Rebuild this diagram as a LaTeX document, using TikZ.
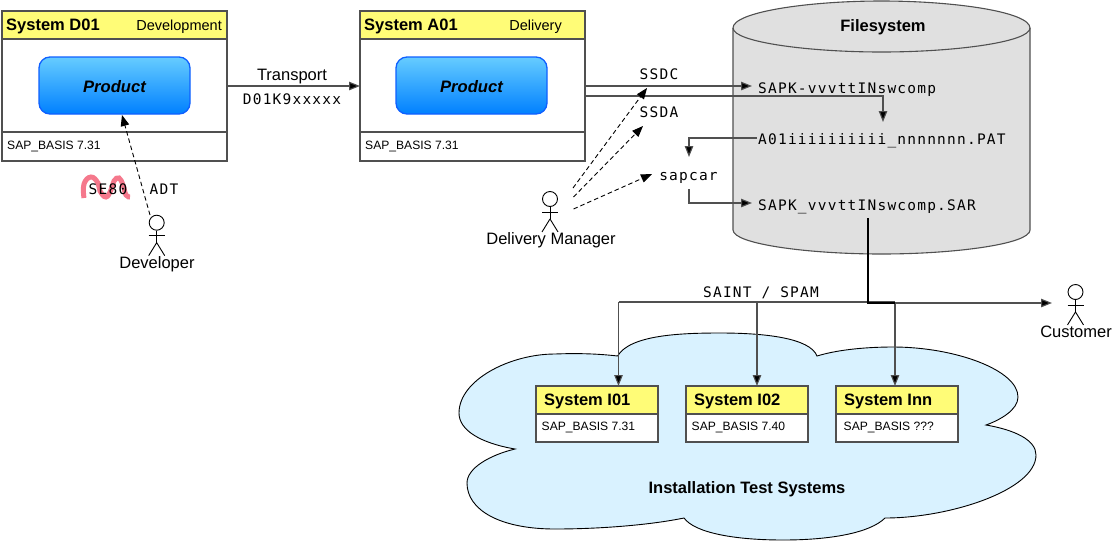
\documentclass[tikz,border=0pt]{standalone}
\usepackage{fontspec}
\setmainfont{Liberation Sans}
\newfontfamily\codefont[LetterSpace=8.4]{DejaVu Sans Mono}
\usetikzlibrary{arrows.meta,calc}
\definecolor{linegray}{HTML}{505050}
\definecolor{headyellow}{HTML}{FFFC77}
\definecolor{cloudblue}{HTML}{D9F2FF}
\definecolor{cylgray}{HTML}{E0E0E0}
\definecolor{squig}{HTML}{F5788C}
\definecolor{prodtop}{HTML}{66CCFF}
\definecolor{prodbot}{HTML}{0080FF}
\definecolor{prodline}{HTML}{0F60FF}
\tikzset{
  x=1pt,y=-1pt,
  boxpart/.style={draw=linegray,line width=1.1pt,rectangle,inner sep=0pt,outer sep=0pt,fill=white},
  headpart/.style={boxpart,fill=headyellow},
  product/.style={draw=prodline,line width=1.3pt,rounded corners=11pt,minimum width=151pt,minimum height=57pt,
    top color=prodtop,bottom color=prodbot,inner sep=0pt,text depth=0pt,font=\fontsize{16.6}{19}\selectfont\bfseries\itshape},
  sans/.style={inner sep=0pt,font=\fontsize{16.5}{19}\selectfont},
  title/.style={inner sep=0pt,font=\fontsize{16.5}{19}\selectfont\bfseries},
  midtext/.style={inner sep=0pt,font=\fontsize{14.5}{17}\selectfont},
  small/.style={inner sep=0pt,font=\fontsize{12.1}{14}\selectfont},
  code/.style={inner sep=0pt,font=\fontsize{14.5}{17}\codefont},
  conn/.style={draw=linegray,line width=1.1pt,-{Triangle[length=11pt,width=8.5pt,fill=black]}},
  plainconn/.style={draw=linegray,line width=1.1pt},
  darkconn/.style={draw=black,line width=1.4pt},
  dashconn/.style={draw=black,line width=.9pt,dash pattern=on 4.5pt off 3pt,-{Triangle[length=11pt,width=8.5pt,fill=black]}},
  stick/.style={draw=black,line width=.9pt},
}
\newcommand{\actor}[3]{% x, y of head centre, name
  \node[stick,circle,fill=white,minimum size=15pt,inner sep=0pt] (#3) at (#1,#2) {};
  \draw[stick] (#3.south) -- ++(0,12) coordinate (#3hip);
  \draw[stick] ($(#3.south)+(-8,5)$) -- ($(#3.south)+(8,5)$);
  \draw[stick] (#3hip) -- ++(-8,13) (#3hip) -- ++(8,13);
}
\begin{document}
\begin{tikzpicture}
\useasboundingbox (0,0) rectangle (1112,547);
% cloud
\draw[fill=cloudblue,draw=black,line width=.9pt]
  (617.6,356) .. controls (630,335) and (680,333) .. (720,333)
  .. controls (765,333) and (810,338) .. (817,356)
  .. controls (840,349) and (870,347) .. (893,347)
  .. controls (955,347) and (1018,370) .. (1018,397)
  .. controls (1018,410) and (1000,420) .. (986,425)
  .. controls (1015,430) and (1036,440) .. (1036,455)
  .. controls (1036,490) and (950,518) .. (885,518)
  .. controls (870,533) and (830,540) .. (783,540)
  .. controls (735,540) and (695,533) .. (684,518)
  .. controls (650,525) and (600,529) .. (555,529)
  .. controls (500,529) and (467,510) .. (467,483)
  .. controls (467,468) and (490,455) .. (515,449)
  .. controls (480,443) and (459,430) .. (459,413)
  .. controls (459,380) and (510,354) .. (555,354)
  .. controls (580,353) and (600,354) .. (617.6,356) -- cycle;
% cylinder
\draw[fill=cylgray,draw=linegray,line width=1.1pt]
  (733,28) -- (733,230) .. controls (733,244) and (808,254) .. (881.5,254)
  .. controls (955,254) and (1030,244) .. (1030,230) -- (1030,28)
  .. controls (1030,12) and (955,1) .. (881.5,1) .. controls (808,1) and (733,12) .. (733,28) -- cycle;
\draw[draw=linegray,line width=1.1pt] (733,28) .. controls (733,42) and (808,52) .. (881.5,52) .. controls (955,52) and (1030,42) .. (1030,28);
\node[title] (fs) at (883,27.5) {Filesystem};
% system D01
\node[boxpart,minimum width=225pt,minimum height=150pt] (sysD) at (114.5,86) {};
\node[headpart,minimum width=225pt,minimum height=28pt] (sysDh) at (114.5,25) {};
\node[boxpart,minimum width=225pt,minimum height=29pt] (sysDf) at (114.5,146.5) {};
\node[title,anchor=west] (sysDt) at (6,26) {System D01};
\node[midtext,anchor=east] (sysDr) at (222,26.5) {Development};
\node[small,anchor=west] (sysDb) at (7,146) {SAP\_BASIS 7.31};
\node[product] (prodD) at (114.5,85.5) {\raisebox{-1.5pt}{Product}};
% system A01
\node[boxpart,minimum width=225pt,minimum height=150pt] (sysA) at (472.5,86) {};
\node[headpart,minimum width=225pt,minimum height=28pt] (sysAh) at (472.5,25) {};
\node[boxpart,minimum width=225pt,minimum height=29pt] (sysAf) at (472.5,146.5) {};
\node[title,anchor=west] (sysAt) at (364,26) {System A01};
\node[midtext,anchor=east] (sysAr) at (562,26.5) {Delivery};
\node[small,anchor=west] (sysAb) at (365,146) {SAP\_BASIS 7.31};
\node[product] (prodA) at (471.5,85.5) {\raisebox{-1.5pt}{Product}};
% transport
\node[sans] (tr) at (292,77) {Transport};
\node[code] (trc) at (292,99) {D01K9xxxxx};
\draw[conn] (sysD.east |- 0,86) -- (sysA.west |- 0,86);
% squiggle
\draw[squig,line width=5pt] plot[smooth,tension=.75] coordinates {(84,198) (84,184) (91,177) (98,183) (100,191) (106,197) (111,190) (114,181) (119,178) (123,185) (126,195) (130,197)};
\node[code] (se) at (108,189) {SE80};
\node[code] (adt) at (164,189) {ADT};
% actors
\actor{156.7}{222.7}{dev}
\node[sans] (devl) at (157,264) {Developer};
\actor{550}{199}{mgr}
\node[sans] (mgrl) at (551,240) {Delivery Manager};
\actor{1075.5}{292}{cust}
\node[sans] (custl) at (1076,332) {Customer};
% file labels
\node[code,anchor=west] (f1) at (758,89.5) {SAPK-vvvttINswcomp};
\node[code,anchor=west] (f2) at (758,141) {A01iiiiiiiiii\_nnnnnnn.PAT};
\node[code,anchor=west] (f3) at (758,207) {SAPK\_vvvttINswcomp.SAR};
\node[code] (ssdc) at (659,74) {SSDC};
\node[code] (ssda) at (659,112) {SSDA};
\node[code] (sapcar) at (688.5,177.5) {sapcar};
% connectors
\coordinate (ssdcIn) at (647,88);
\coordinate (ssdaIn) at (643,126);
\coordinate (f1in) at (752,86);
\coordinate (f2in) at (883,122);
\coordinate (f2out) at (757,138);
\coordinate (sapin) at (689,157);
\coordinate (sapout) at (689,189);
\coordinate (f3in) at (752,203);
\draw[conn] (sysA.east |- 0,86) -- (f1in);
\draw[conn] (sysA.east |- 0,96) -| (f2in);
\draw[conn] (f2out) -| (sapin);
\draw[conn] (sapout) |- (f3in);
\coordinate (m1) at (573,188);
\coordinate (m2) at (573.5,197);
\coordinate (m3) at (573.5,209);
\coordinate (sapd) at (652,174);
\coordinate (d1) at (150,215);
\coordinate (d2) at (122,115);
\draw[dashconn] (m1) -- (ssdcIn);
\draw[dashconn] (m2) -- (ssdaIn);
\draw[dashconn] (m3) -- (sapd);
\draw[dashconn] (d1) -- (d2);
% test systems
\foreach \nm/\cx/\ttl/\bas/\tx/\bx in {i/597/System I01/SAP\_BASIS 7.31/544/541.5, j/747/System I02/SAP\_BASIS 7.40/694/691.5, k/897/System Inn/SAP\_BASIS ???/844/843.5}{
  \node[boxpart,minimum width=122pt,minimum height=56pt] (\nm) at (\cx,414) {};
  \node[headpart,minimum width=122pt,minimum height=28pt] (\nm h) at (\cx,400) {};
  \node[title,anchor=west] (\nm t) at (\tx,401.5) {\ttl};
  \node[small,anchor=west] (\nm b) at (\bx,427.5) {\bas};
}
\node[title] (inst) at (747,489) {Installation Test Systems};
\node[code] (saint) at (761,293) {SAINT / SPAM};
% distribution
\coordinate (busL) at (618.5,302);
\coordinate (busM) at (757,302);
\coordinate (busR) at (895,302);
\coordinate (custIn) at (1052,303);
\coordinate (sarOut) at (868,218);
\draw[plainconn] (busL) -- (busR);
\draw[conn] (busL) -- (busL |- ih.north);
\draw[conn] (busM) -- (busM |- jh.north);
\draw[conn] (busR) -- (busR |- kh.north);
\draw[conn] (sarOut |- 0,303) -- (custIn);
\draw[darkconn] (sarOut) -- (sarOut |- 0,303) -- (busR |- 0,303);
\end{tikzpicture}
\end{document}
